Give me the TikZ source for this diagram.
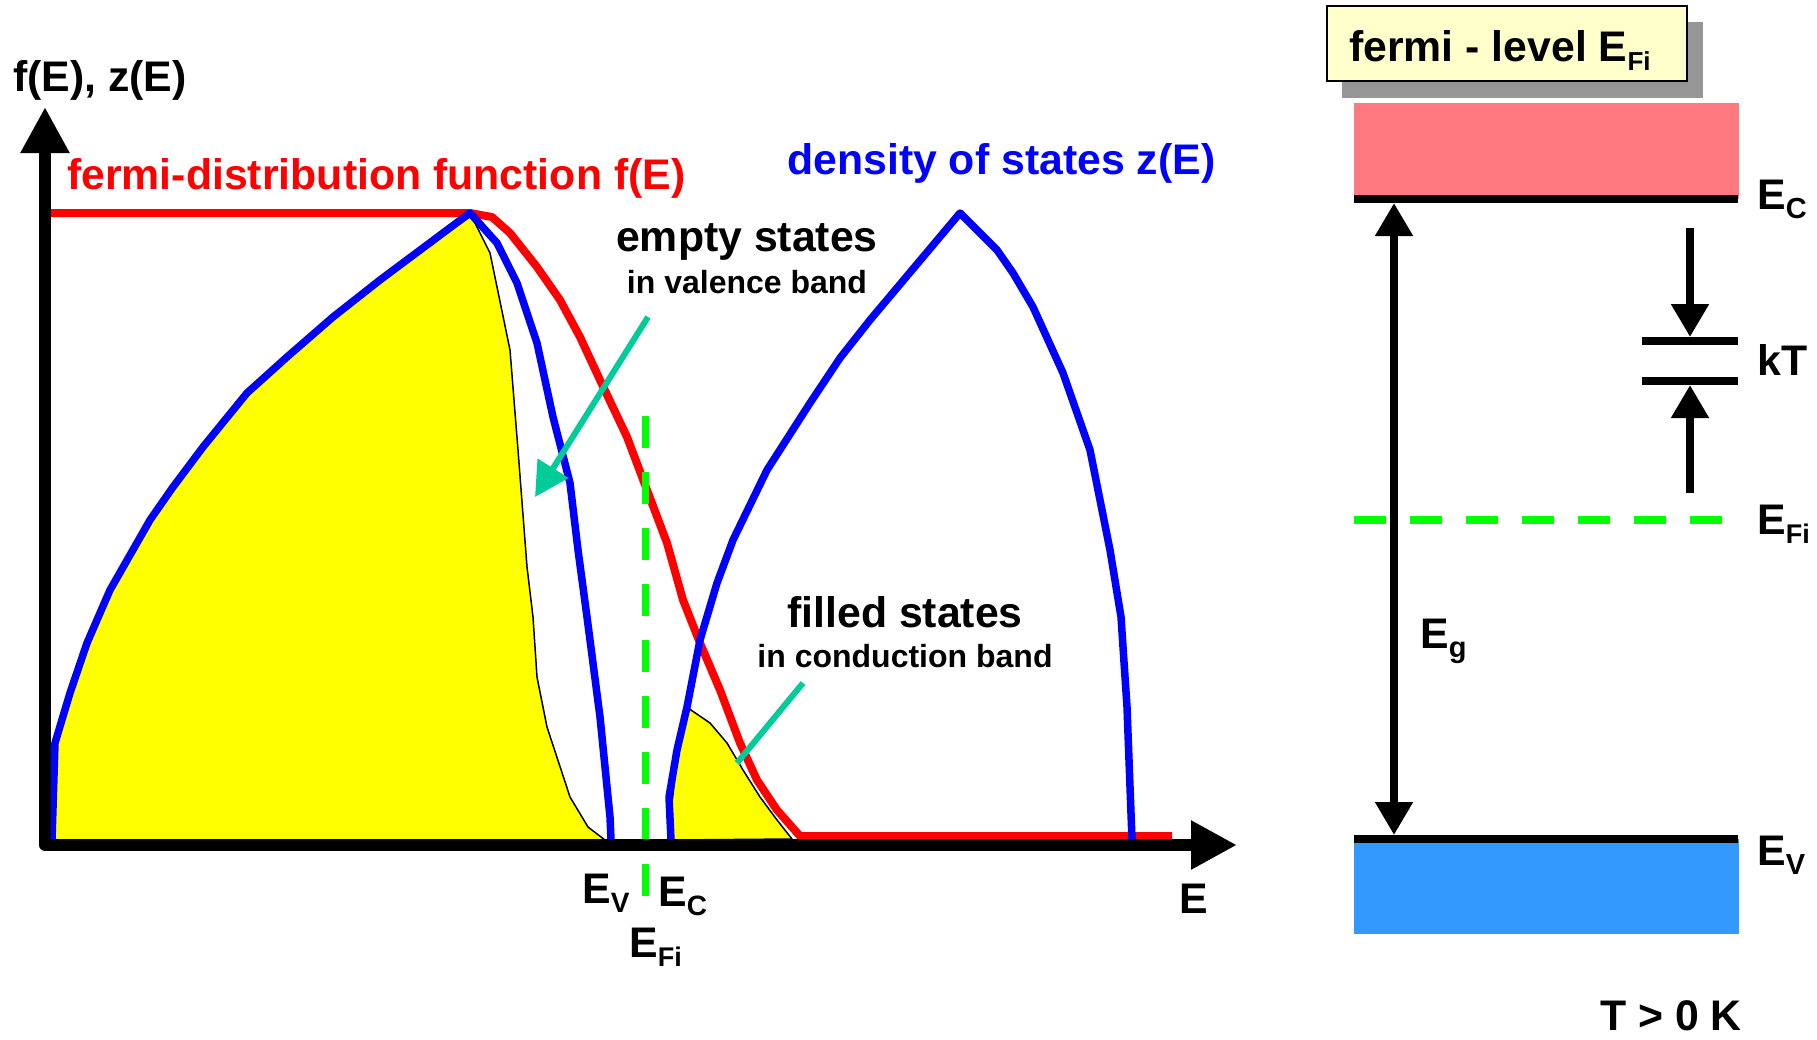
\documentclass[tikz,border=0pt]{standalone}
\usepackage{fontspec}
\setmainfont{Liberation Sans}
\usetikzlibrary{arrows.meta}
\definecolor{cred}{RGB}{255,0,0}
\definecolor{cblue}{RGB}{0,0,255}
\definecolor{cyel}{RGB}{255,255,0}
\definecolor{cgreen}{RGB}{0,255,0}
\definecolor{cteal}{RGB}{0,204,153}
\definecolor{cpink}{RGB}{255,122,128}
\definecolor{cband}{RGB}{51,153,255}
\definecolor{cbox}{RGB}{255,255,204}
\definecolor{cshadow}{RGB}{150,150,150}
\newcommand\Lfont{\fontsize{42.8}{48}\selectfont\bfseries}
\newcommand\Sfont{\fontsize{32}{38}\selectfont\bfseries}
\newcommand\Elab[2][28]{E\raisebox{-9pt}{\fontsize{#1}{#1}\selectfont #2}}
\tikzset{
  axtip/.tip={Triangle[length=46pt,width=46pt]},
  eltip/.tip={Triangle[length=33pt,width=36pt]},
  tltip/.tip={Triangle[length=34pt,width=35pt]},
  lbl/.style={anchor=base west,inner sep=0pt,font=\Lfont},
  slbl/.style={anchor=base,inner sep=0pt,font=\Sfont},
  clbl/.style={anchor=base,inner sep=0pt,font=\Lfont},
  redcurve/.style={draw=cred,line width=8pt,line join=round},
  bluecurve/.style={draw=cblue,line width=7.5pt,line join=round,line cap=round},
  fillarea/.style={fill=cyel,draw=black,line width=1.5pt,line join=round},
  greendash/.style={draw=cgreen,line width=7pt,dash pattern=on 32pt off 24pt},
  tealline/.style={draw=cteal,line width=6pt},
  levelline/.style={draw=black,line width=8pt},
}
\begin{document}
\begin{tikzpicture}[x=1pt,y=-1pt]
\useasboundingbox (0,0) rectangle (1817,1039);
% ---------------- left panel ----------------
% yellow areas
\path[fillarea] plot coordinates {(52,840) (55,743) (70,693) (87,643) (110,590) (150,520) (173,487) (203,447) (247,393) (287,357) (333,317) (380,280) (447,230) (470,213) (490,253) (510,350) (518,450) (527,567) (533,617) (537,677) (547,727) (570,797) (588,827) (605,840)} -- cycle;
\path[fillarea] plot coordinates {(673,840) (672,803) (678,750) (688,708) (710,723) (727,743) (743,770) (760,797) (777,820) (792,839)} -- cycle;
% fermi distribution
\draw[redcurve] plot coordinates {(51,213) (470,213) (492,217) (510,233) (537,267) (560,300) (580,337) (600,380) (627,437) (647,490) (667,543) (683,600) (700,643) (720,690) (740,743) (757,780) (777,810) (800,836) (1172,836)};
% density of states
\draw[bluecurve] plot coordinates {(52,840) (55,743) (70,693) (87,643) (110,590) (150,520) (173,487) (203,447) (247,393) (287,357) (333,317) (380,280) (447,230) (470,213) (497,243) (517,283) (537,343) (553,417) (570,483) (578,550) (587,617) (600,717) (610,817) (611,840)};
\draw[bluecurve] plot coordinates {(671,840) (669,797) (677,750) (687,707) (700,640) (717,583) (733,540) (767,470) (810,403) (840,358) (870,320) (960,213) (997,250) (1013,273) (1033,307) (1063,373) (1090,450) (1110,550) (1121,617) (1127,707) (1132,840)};
% intrinsic fermi level
\coordinate (fTop) at (645,416);
\coordinate (fBot) at (645,896);
\draw[greendash] (fTop) -- (fBot);
% teal pointers
\coordinate (t1a) at (648,317);
\coordinate (t1b) at (535,497);
\draw[tealline,-{tltip}] (t1a) -- (t1b);
\coordinate (t2a) at (803,683);
\coordinate (t2b) at (737,763);
\draw[tealline] (t2a) -- (t2b);
% axes
\coordinate (yTip) at (45,107);
\coordinate (orig) at (45,845);
\coordinate (xTip) at (1237,845);
\draw[line width=12pt,line join=round,{axtip}-{axtip}] (yTip) -- (orig) -- (xTip);
% left texts
\node[lbl] (yl) at (13,91) {f(E), z(E)};
\node[lbl,text=cred] (fl) at (67,189) {fermi-distribution function f(E)};
\node[lbl,text=cblue] (dl) at (787,174) {density of states z(E)};
\node[clbl] (es) at (747,251) {empty states};
\node[slbl] (es2) at (747,293) {in valence band};
\node[clbl] (fs) at (905,627) {filled states};
\node[slbl] (fs2) at (905,667) {in conduction band};
\node[lbl] (evl) at (582,903) {\Elab{V}};
\node[lbl] (ecl) at (658,906) {\Elab{C}};
\node[lbl] (efl) at (629,957) {\Elab[27]{Fi}};
\node[lbl] (el) at (1179,913) {E};
% ---------------- right panel ----------------
\fill[cshadow] (1342,22) rectangle (1703,98);
\draw[fill=cbox,line width=2pt] (1327,6) rectangle (1687,81);
\node[lbl] (title) at (1349,61) {fermi - level \Elab[26]{Fi}};
\fill[cpink] (1354,103) rectangle (1739,199);
\fill[cband] (1354,839) rectangle (1739,934);
\coordinate (ecA) at (1354,199);
\coordinate (ecB) at (1738,199);
\coordinate (evA) at (1354,839);
\coordinate (evB) at (1738,839);
\draw[levelline] (ecA) -- (ecB);
\draw[levelline] (evA) -- (evB);
\coordinate (efA) at (1354,520);
\coordinate (efB) at (1722,520);
\draw[draw=cgreen,line width=8pt,dash pattern=on 32pt off 24pt] (efA) -- (efB);
% band gap arrow
\coordinate (gTop) at (1394,203);
\coordinate (gBot) at (1394,835);
\draw[line width=8pt,{eltip}-{eltip}] (gTop) -- (gBot);
% kT marks
\coordinate (k1a) at (1642,341);
\coordinate (k1b) at (1738,341);
\coordinate (k2a) at (1642,381);
\coordinate (k2b) at (1738,381);
\draw[levelline] (k1a) -- (k1b);
\draw[levelline] (k2a) -- (k2b);
\coordinate (ka0) at (1690,228);
\coordinate (ka1) at (1690,337);
\coordinate (kb0) at (1690,493);
\coordinate (kb1) at (1690,385);
\draw[line width=8pt,-{eltip}] (ka0) -- (ka1);
\draw[line width=8pt,-{eltip}] (kb0) -- (kb1);
% right texts
\node[lbl] (rc) at (1757,209) {\Elab[29]{C}};
\node[lbl] (rkt) at (1757,375) {kT};
\node[lbl] (rfi) at (1757,534) {\Elab[27]{Fi}};
\node[lbl] (rv) at (1757,865) {\Elab[29]{V}};
\node[lbl] (rg) at (1420,648) {\Elab[29]{g}};
\node[lbl] (temp) at (1600,1030) {T > 0 K};
\end{tikzpicture}
\end{document}
